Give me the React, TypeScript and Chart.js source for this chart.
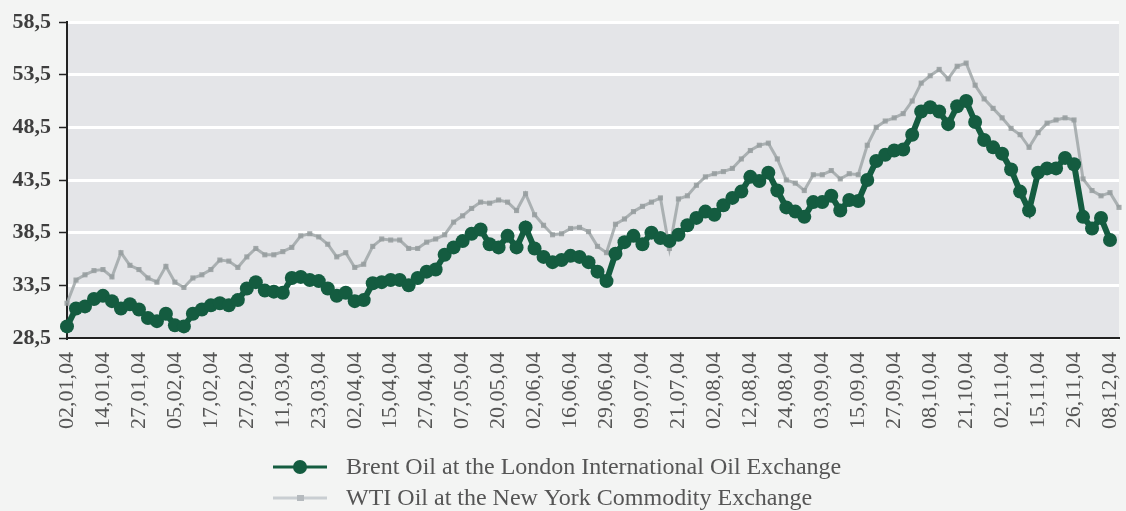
import React, { useEffect, useRef } from "react";
import { Chart, registerables } from "chart.js";

Chart.register(...registerables);

const tickLabels = [
  "02,01,04", "14,01,04", "27,01,04", "05,02,04", "17,02,04", "27,02,04",
  "11,03,04", "23,03,04", "02,04,04", "15,04,04", "27,04,04", "07,05,04",
  "20,05,04", "02,06,04", "16,06,04", "29,06,04", "09,07,04", "21,07,04",
  "02,08,04", "12,08,04", "24,08,04", "03,09,04", "15,09,04", "27,09,04",
  "08,10,04", "21,10,04", "02,11,04", "15,11,04", "26,11,04", "08,12,04",
];

const brent: (number | null)[] = [
  29.6, 31.3, 31.5, 32.2, 32.5, 32.0, 31.3, 31.7, 31.2, 30.4,
  30.1, 30.8, 29.7, 29.6, 30.8, 31.2, 31.6, 31.8, 31.6, 32.1,
  33.2, 33.8, 33.0, 32.9, 32.8, 34.2, 34.3, 34.0, 33.9, 33.2,
  32.5, 32.8, 32.0, 32.1, 33.7, 33.8, 34.0, 34.0, 33.5, 34.2,
  34.8, 35.0, 36.4, 37.1, 37.7, 38.4, 38.8, 37.4, 37.1, 38.2,
  37.1, 39.0, 37.0, 36.2, 35.7, 35.9, 36.3, 36.2, 35.7, 34.8,
  33.9, 36.5, 37.6, 38.2, 37.4, 38.5, 38.0, 37.7, 38.3, 39.2,
  39.9, 40.5, 40.2, 41.1, 41.8, 42.4, 43.8, 43.4, 44.2, 42.5,
  40.9, 40.5, 40.0, 41.4, 41.4, 42.0, 40.6, 41.6, 41.5, 43.5,
  45.3, 45.9, 46.3, 46.4, 47.8, 50.0, 50.4, 50.0, 48.8, 50.5,
  51.0, 49.0, 47.3, 46.6, 46.0, 44.5, 42.4, 40.6, 44.2, 44.6,
  44.6, 45.6, 45.0, 40.0, 38.9, 39.9, 37.8, null,
];

const wti: number[] = [
  31.8, 34.0, 34.5, 34.9, 35.0, 34.3, 36.6, 35.4, 35.0, 34.2,
  33.8, 35.3, 33.8, 33.3, 34.2, 34.5, 35.0, 35.9, 35.8, 35.2,
  36.2, 37.0, 36.4, 36.4, 36.7, 37.1, 38.2, 38.4, 38.1, 37.4,
  36.2, 36.6, 35.2, 35.5, 37.2, 37.9, 37.8, 37.8, 37.0, 37.0,
  37.6, 37.9, 38.3, 39.5, 40.1, 40.8, 41.4, 41.3, 41.6, 41.4,
  40.6, 42.2, 40.2, 39.2, 38.3, 38.4, 38.9, 39.0, 38.6, 37.2,
  36.6, 39.3, 39.8, 40.5, 41.0, 41.4, 41.8, 37.0, 41.7, 42.0,
  43.0, 43.8, 44.1, 44.3, 44.6, 45.5, 46.3, 46.8, 47.0, 45.5,
  43.5, 43.2, 42.5, 44.0, 44.0, 44.4, 43.6, 44.1, 44.0, 46.8,
  48.5, 49.1, 49.4, 49.8, 51.0, 52.7, 53.4, 54.0, 53.1, 54.3,
  54.6, 52.5, 51.2, 50.3, 49.4, 48.4, 47.8, 46.6, 48.0, 48.9,
  49.2, 49.4, 49.2, 43.6, 42.5, 42.0, 42.3, 40.9,
];

const seriesNames = [
  "Brent Oil at the London International Oil Exchange",
  "WTI Oil at the New York Commodity Exchange",
];

const yMin = 28.5;
const yMax = 58.5;
const yStep = 5;
const pointsPerLabel = 4;

const SERIF = "'Liberation Serif', 'Times New Roman', Times, serif";
const BRENT_COLOR = "#145c40";
const WTI_COLOR = "rgba(160,167,168,0.85)";
const WTI_POINT = "rgba(150,157,159,0.85)";
const PLOT_BG = "#e4e5e8";
const PAGE_BG = "#f3f4f3";

const labels = wti.map((_, j) =>
  j % pointsPerLabel === 0 && j / pointsPerLabel < tickLabels.length
    ? tickLabels[j / pointsPerLabel]
    : ""
);

const plotBgPlugin = {
  id: "plotBg",
  beforeDraw(chart: any) {
    const { ctx, chartArea } = chart;
    if (!chartArea) return;
    ctx.save();
    ctx.fillStyle = PLOT_BG;
    ctx.fillRect(chartArea.left, chartArea.top, chartArea.right - chartArea.left, chartArea.bottom - chartArea.top);
    ctx.restore();
  },
};

const legendPlugin = {
  id: "customLegend",
  afterDraw(chart: any) {
    const { ctx } = chart;
    ctx.save();
    ctx.font = `24px ${SERIF}`;
    const x0 = 273;
    const rows = [467, 498];
    rows.forEach((y, i) => {
      if (i === 0) {
        ctx.strokeStyle = BRENT_COLOR;
        ctx.lineWidth = 3;
        ctx.beginPath();
        ctx.moveTo(x0, y);
        ctx.lineTo(x0 + 54, y);
        ctx.stroke();
        ctx.fillStyle = BRENT_COLOR;
        ctx.beginPath();
        ctx.arc(x0 + 27, y, 7, 0, Math.PI * 2);
        ctx.fill();
      } else {
        ctx.strokeStyle = "#c9ced2";
        ctx.lineWidth = 3;
        ctx.beginPath();
        ctx.moveTo(x0, y);
        ctx.lineTo(x0 + 54, y);
        ctx.stroke();
        ctx.fillStyle = "#b5babe";
        ctx.fillRect(x0 + 24, y - 3, 7, 6);
      }
      ctx.fillStyle = "#555555";
      ctx.textAlign = "left";
      ctx.textBaseline = "middle";
      ctx.fillText(seriesNames[i], x0 + 73, y + 1);
    });
    ctx.restore();
  },
};

export default function App() {
  const canvasRef = useRef<HTMLCanvasElement | null>(null);

  useEffect(() => {
    document.body.style.margin = "0";
    document.body.style.background = PAGE_BG;
    const canvas = canvasRef.current;
    if (!canvas) return;
    const chart = new Chart(canvas, {
      type: "line",
      data: {
        labels,
        datasets: [
          {
            label: seriesNames[0],
            data: brent,
            borderColor: BRENT_COLOR,
            backgroundColor: BRENT_COLOR,
            borderWidth: 6,
            pointRadius: 7,
            pointBorderWidth: 0,
            pointBackgroundColor: BRENT_COLOR,
            pointStyle: "circle",
            tension: 0,
            spanGaps: false,
          },
          {
            label: seriesNames[1],
            data: wti,
            borderColor: WTI_COLOR,
            backgroundColor: WTI_POINT,
            borderWidth: 3,
            pointRadius: 3.6,
            pointBorderWidth: 0,
            pointBackgroundColor: WTI_POINT,
            pointStyle: "rect",
            tension: 0,
          },
        ],
      },
      options: {
        animation: false,
        responsive: true,
        maintainAspectRatio: false,
        layout: { padding: { top: 22, right: 7, bottom: 0, left: 0 } },
        plugins: {
          legend: { display: false },
          tooltip: { enabled: false },
        },
        scales: {
          x: {
            type: "category",
            offset: false,
            grid: { display: false },
            border: { display: true, color: "#222222", width: 2 },
            ticks: {
              autoSkip: false,
              maxRotation: 90,
              minRotation: 90,
              padding: 6,
              color: "#555555",
              font: { family: SERIF, size: 22 },
            },
            afterFit(scale: any) {
              scale.height = scale.chart.height - 338;
              scale.paddingLeft = 0;
              scale.paddingRight = 0;
            },
          },
          y: {
            min: yMin,
            max: yMax,
            grid: {
              color: "#ffffff",
              lineWidth: 3,
              drawTicks: true,
              tickLength: 8,
              tickColor: "#222222",
              tickWidth: 1.5,
            },
            border: { display: true, color: "#222222", width: 2 },
            ticks: {
              stepSize: yStep,
              padding: 8,
              color: "#3e3e3e",
              font: { family: SERIF, size: 22, weight: "bold" },
              callback: (v: any) => Number(v).toFixed(1).replace(".", ","),
            },
            afterFit(scale: any) {
              scale.width = 67;
            },
          },
        },
      },
      plugins: [plotBgPlugin, legendPlugin],
    });
    return () => chart.destroy();
  }, []);

  return (
    <div style={{ width: 1126, height: 511, position: "relative", background: PAGE_BG }}>
      <canvas ref={canvasRef} />
    </div>
  );
}
